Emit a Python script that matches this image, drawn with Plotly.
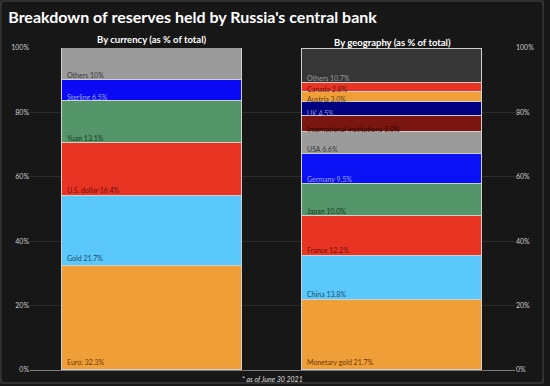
import plotly.graph_objects as go

# ---- data ----
currency_labels = ["Euro:", "Gold", "U.S. dollar", "Yuan", "Sterling", "Others"]
currency_values = [32.3, 21.7, 16.4, 13.1, 6.5, 10.0]
currency_texts = ["Euro: 32.3%", "Gold 21.7%", "U.S. dollar 16.4%", "Yuan 13.1%", "Sterling 6.5%", "Others 10%"]

geo_labels = ["Monetary gold", "China", "France", "Japan", "Germany", "USA",
              "International institutions", "UK", "Austria", "Canada", "Others"]
geo_values = [21.7, 13.8, 12.2, 10.0, 9.5, 6.6, 5.0, 4.5, 3.0, 2.8, 10.7]
geo_texts = ["Monetary gold 21.7%", "China 13.8%", "France 12.2%", "Japan 10.0%", "Germany 9.5%",
             "USA 6.6%", "International institutions 5.0%", "UK 4.5%", "Austria 3.0%",
             "Canada 2.8%", "Others 10.7%"]

y_ticks = [0, 20, 40, 60, 80, 100]
y_tick_text = ["0%", "20%", "40%", "60%", "80%", "100%"]

# ---- styles ----
currency_colors = ["#f09e38", "#5bc8fb", "#e93423", "#54956a", "#0a0af5", "#9b9b9b"]
currency_text_colors = ["#6a3a08", "#1d4a6a", "#6a1208", "#1a3a20", "#9aa0e8", "#3a3a3a"]
geo_colors = ["#f09e38", "#5bc8fb", "#e93423", "#54956a", "#0a12f5", "#9b9b9b",
              "#7b150f", "#000080", "#f09e38", "#e93423", "#363636"]
geo_text_colors = ["#6a3a08", "#1d4a6a", "#6a1208", "#1a3a20", "#9aa0f0", "#3a3a3a",
                   "#2e0602", "#8a9ad0", "#5a3a10", "#6a1208", "#9a9a9a"]

BAR_W = 0.748
X_LEFT, X_RIGHT = 0, 1
FONT = "Lato, sans-serif"

fig = go.Figure()
annotations = []


def add_stack(xpos, labels, values, texts, colors, tcolors):
    base = 0.0
    for lab, v, t, c, tc in zip(labels, values, texts, colors, tcolors):
        fig.add_trace(go.Bar(
            x=[xpos], y=[v], name=lab, width=BAR_W,
            marker=dict(color=c, line=dict(color="#cfcfcf", width=1)),
            hoverinfo="name+y", showlegend=False,
        ))
        off = min(8, max(3, 2.5 + 0.25 * v))
        annotations.append(dict(
            x=xpos - BAR_W / 2, y=base, xref="x", yref="y",
            text=t, showarrow=False, xanchor="left", yanchor="middle",
            xshift=3, yshift=off,
            font=dict(size=7, color=tc, family=FONT),
        ))
        base += v


add_stack(X_LEFT, currency_labels, currency_values, currency_texts, currency_colors, currency_text_colors)
add_stack(X_RIGHT, geo_labels, geo_values, geo_texts, geo_colors, geo_text_colors)

# dummy trace for right axis
fig.add_trace(go.Scatter(x=[X_LEFT], y=[0], yaxis="y2", mode="markers",
                         marker=dict(opacity=0), hoverinfo="skip", showlegend=False))

annotations += [
    dict(x=X_LEFT, y=1.025, xref="x", yref="paper", text="<b>By currency (as % of total)</b>",
         showarrow=False, xanchor="center", yanchor="middle",
         font=dict(size=9.5, color="#ffffff", family=FONT)),
    dict(x=X_RIGHT, y=1.016, xref="x", yref="paper", text="<b>By geography (as % of total)</b>",
         showarrow=False, xanchor="center", yanchor="middle",
         font=dict(size=9.5, color="#ffffff", family=FONT)),
    dict(x=0.499, y=-0.028, xref="paper", yref="paper", text="<i>* as of June 30 2021</i>",
         showarrow=False, xanchor="center", yanchor="middle",
         font=dict(size=7, color="#dddddd", family=FONT)),
]

fig.update_layout(
    width=550, height=386,
    margin=dict(l=30, r=35, t=48, b=16),
    paper_bgcolor="#171717", plot_bgcolor="#171717",
    barmode="stack", bargap=0,
    title=dict(text="<b>Breakdown of reserves held by Russia's central bank</b>",
               x=0.015, xref="container", xanchor="left",
               y=1 - 17 / 386, yref="container", yanchor="middle",
               font=dict(size=16, color="#ffffff", family=FONT)),
    xaxis=dict(range=[-0.507, 1.51], showticklabels=False, showgrid=False, zeroline=False,
               showline=True, linecolor="#7a7a7a", linewidth=1, fixedrange=True),
    yaxis=dict(range=[0, 100], tickmode="array", tickvals=y_ticks, ticktext=y_tick_text,
               showgrid=True, gridcolor="#2c2c2c", gridwidth=1, zeroline=False,
               tickfont=dict(size=7, color="#cccccc", family=FONT), ticklen=0),
    yaxis2=dict(range=[0, 100], tickmode="array", tickvals=y_ticks, ticktext=y_tick_text,
                overlaying="y", side="right", showgrid=False, zeroline=False,
                tickfont=dict(size=7, color="#cccccc", family=FONT), ticklen=0),
    annotations=annotations,
    shapes=[dict(type="rect", xref="paper", yref="paper",
                 x0=(1 - 30) / 485, x1=(543 - 30) / 485,
                 y0=(370 - 383) / 322, y1=(370 - 1) / 322,
                 line=dict(color="#4a4a4a", width=1), layer="below")],
)

fig.write_html("out.html", config={"displayModeBar": False},
               post_script="document.body.style.margin='0';document.body.style.background='#171717';")
